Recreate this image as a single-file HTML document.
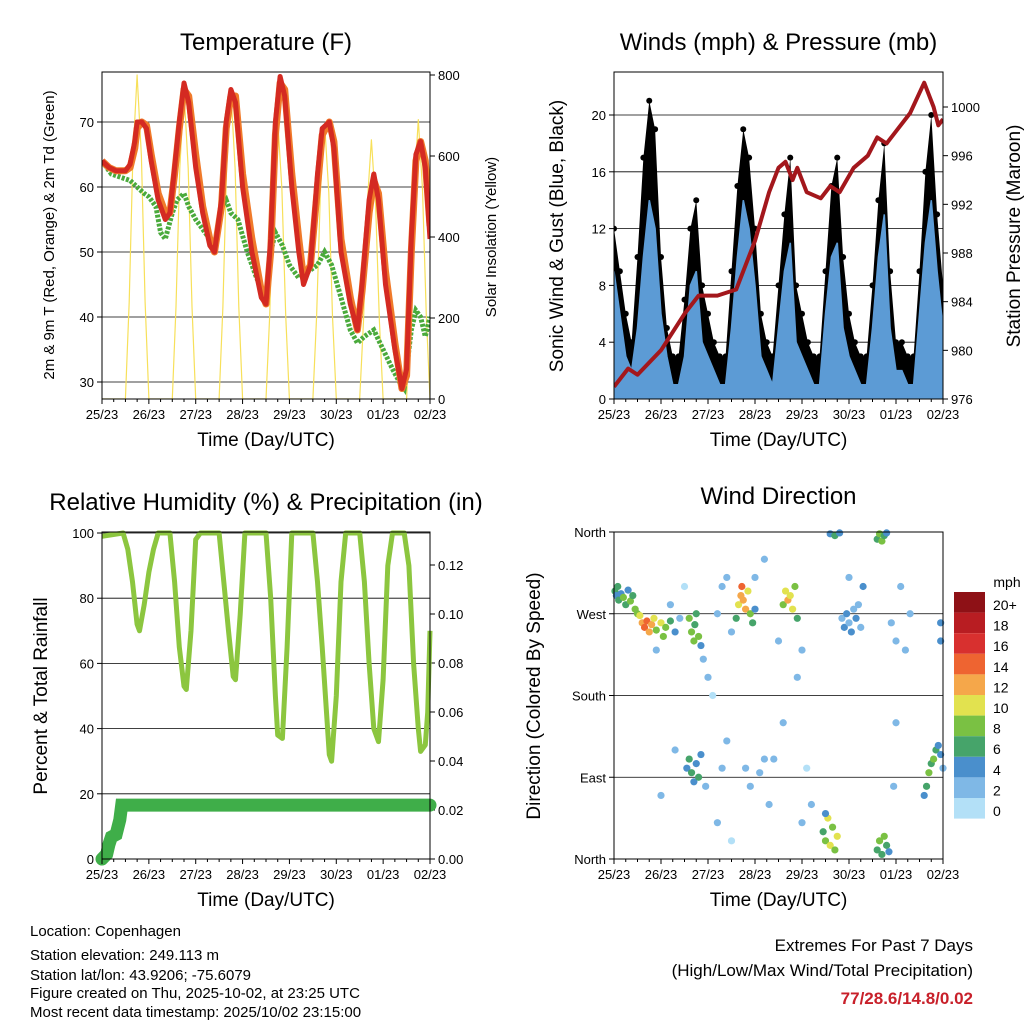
<!DOCTYPE html>
<html><head><meta charset="utf-8"><style>
html,body{margin:0;padding:0;background:#fff;}
svg{display:block;font-family:"Liberation Sans",sans-serif;}
</style></head><body>
<svg id="s" width="1024" height="1024" viewBox="0 0 1024 1024">
<g font-size="15" fill="#000">
<text x="30" y="936">Location: Copenhagen</text>
<text x="30" y="960">Station elevation: 249.113 m</text>
<text x="30" y="980">Station lat/lon: 43.9206; -75.6079</text>
<text x="30" y="998">Figure created on Thu, 2025-10-02, at 23:25 UTC</text>
<text x="30" y="1017">Most recent data timestamp: 2025/10/02 23:15:00</text>
</g>
<g text-anchor="end">
<text x="973" y="951" font-size="17">Extremes For Past 7 Days</text>
<text x="973" y="976" font-size="17">(High/Low/Max Wind/Total Precipitation)</text>
<text x="973" y="1004" font-size="17" font-weight="bold" fill="#c8202a">77/28.6/14.8/0.02</text>
</g>
</svg>
<script>
// ---------- data ----------
const dayLabels=["25/23","26/23","27/23","28/23","29/23","30/23","01/23","02/23"];
const redT=[0,.15,.3,.5,.6,.7,.75,.85,.95,1.05,1.2,1.35,1.45,1.55,1.65,1.75,1.85,2.0,2.15,2.3,2.4,2.55,2.65,2.75,2.85,3.0,3.2,3.4,3.5,3.6,3.7,3.8,3.9,4.05,4.2,4.3,4.45,4.6,4.7,4.85,4.95,5.1,5.3,5.45,5.55,5.7,5.8,5.9,6.05,6.25,6.4,6.5,6.6,6.7,6.8,6.9,7.0];
const redV=[64,63,62.5,62.5,63.5,67,70,70,69,64,58,55,56,63,70,76,73,63,56,51,50,58,70,75,73,60,50,43,42,52,70,77,74,60,50,45,48,62,69,70,66,50,42,38,45,58,62,58,45,35,29,32,52,65,67,63,52];
const orangeV=[64,63,62.5,62.5,63,66,69,70,69.5,65,59,56,56,62,69,75,74,65,57,52,50,57,69,74,74,62,52,44,42,50,68,76,75,62,52,46,48,60,68,70,67,52,43,38,44,56,61,59,47,36,29,31,50,64,67,64,54];
const tdT=[0,.2,.4,.6,.75,.9,1.0,1.15,1.25,1.35,1.5,1.6,1.75,1.85,2.0,2.2,2.3,2.4,2.55,2.65,2.75,2.9,3.1,3.3,3.5,3.6,3.7,3.85,4.0,4.2,4.4,4.6,4.75,4.9,5.1,5.3,5.45,5.6,5.8,6.0,6.2,6.35,6.45,6.6,6.7,6.8,6.9,7.0];
const tdV=[64,62,61.5,61,60,59,58.5,57,53,52,56,58,59,57,55,53,52,51,57,58,56,55,50,46,43,50,53,51,48,46,47,48,50,48,43,38,36,37,38,35,32,30,29,38,41,40,37,40];
const solDay=[0,1,2,3,4,5,6];
const solPeak=[800,760,760,690,680,640,690];
const solShapeT=[0.5,0.58,0.66,0.75,0.84,0.92,1.0];
const solShapeF=[0,0.3,0.75,1,0.75,0.3,0];
const blueHi=[9,6,3,2,5,10,14,12, 6,3,1,1,3,8,9,4, 3,2,1,1,5,10,14,12, 8,3,2,1,5,9,11,4, 3,2,1,1,6,10,11,5, 3,2,1,1,5,10,13,5, 2,2,1,1,6,11,14,9, 5];
const gust=[12,9,6,4,10,17,21,19, 10,5,3,3,7,12,14,8, 6,4,3,3,9,15,19,17, 12,6,4,3,8,13,17,8, 6,4,3,3,9,15,17,10, 6,4,3,3,8,14,18,9, 4,4,3,3,9,16,20,13, 8];
const presT=[0,.3,.5,1.0,1.5,1.8,2.2,2.6,3.0,3.3,3.5,3.65,3.8,3.9,4.1,4.4,4.6,4.8,5.1,5.4,5.6,5.8,6.0,6.3,6.6,6.8,6.9,7.0];
const presV=[977,978.5,978,980,983,984.5,984.5,985,989,993,995,995.5,994,995,993,992.5,993.5,993,995,996,997.5,997,998,999.5,1002,1000,998.5,999];
const rhT=[0,.45,.55,.65,.75,.8,.9,1.0,1.1,1.2,1.45,1.55,1.65,1.75,1.8,1.9,2.0,2.1,2.5,2.6,2.7,2.8,2.85,2.95,3.05,3.5,3.6,3.7,3.75,3.85,3.95,4.05,4.5,4.6,4.7,4.85,4.9,5.0,5.1,5.2,5.5,5.6,5.7,5.8,5.9,6.0,6.1,6.2,6.45,6.55,6.65,6.75,6.8,6.9,6.95,7.0];
const rhV=[99,100,95,85,72,70,78,88,95,100,100,85,65,53,52,70,98,100,100,85,70,56,55,75,100,100,80,50,38,37,65,100,100,85,65,32,30,50,85,100,100,85,60,40,36,55,90,100,100,90,60,40,33,35,45,70];
const prT=[0,0.1,0.15,0.2,0.3,0.38,0.42,7];
const prV=[0,0.002,0.006,0.009,0.01,0.016,0.022,0.022];
const wdT=[0.02,0.05,0.08,0.1,0.15,0.2,0.25,0.3,0.35,0.4,0.45,0.5,0.55,0.6,0.65,0.7,0.75,0.8,0.85,0.9,1.0,1.05,1.1,1.2,1.3,1.4,0.9,1.2,1.5,1.3,1.0,1.6,1.65,1.7,1.72,1.75,1.8,1.85,1.9,2.0,2.1,1.55,1.6,1.65,1.7,1.75,1.8,1.85,1.95,2.2,2.3,2.4,2.5,2.2,2.3,2.5,2.4,2.6,2.65,2.7,2.72,2.75,2.8,2.85,2.9,2.95,3.0,2.8,2.9,3.1,3.2,3.3,3.0,3.2,3.6,3.65,3.7,3.75,3.8,3.85,3.9,3.5,3.6,3.9,4.0,4.1,4.2,4.0,3.4,4.6,4.7,4.8,4.45,4.5,4.55,4.6,4.65,4.7,4.75,4.5,4.85,4.9,4.95,5.0,5.05,5.1,5.15,5.2,5.25,5.3,5.0,5.6,5.65,5.7,5.75,5.8,5.6,5.65,5.7,5.75,5.8,5.85,5.9,6.0,6.1,6.2,6.3,6.0,5.95,6.6,6.65,6.7,6.75,6.8,6.85,6.9,6.95,7.0,6.95,6.95];
const wdDir=[295,290,300,285,292,288,280,296,284,290,275,270,268,260,255,262,250,258,265,252,260,245,255,262,250,265,230,280,300,120,70,265,250,240,258,270,245,235,220,200,180,100,110,95,85,105,90,115,80,40,100,130,20,270,300,250,310,265,280,290,300,285,275,295,270,260,275,100,80,95,110,60,310,330,280,295,285,290,275,300,265,240,150,200,230,100,60,40,110,358,356,359,30,20,45,15,35,10,25,50,265,255,270,260,250,275,265,280,255,300,310,352,358,350,356,359,10,20,5,25,15,8,260,240,300,230,270,150,80,70,80,95,105,110,120,125,115,100,260,240];
const wdSpd=[6,4,5,6,3,7,5,4,8,6,7,8,10,12,13,14,12,11,10,8,9,7,8,6,3,2,1,1,0,2,1,8,7,8,6,5,7,4,2,1,0,4,5,6,4,3,5,4,2,1,2,1,0,2,1,2,1,6,10,12,13,12,11,10,8,5,3,2,1,2,1,1,2,1,8,10,11,10,9,8,5,1,1,2,1,0,1,1,2,4,6,3,6,8,9,10,8,7,9,4,2,3,4,2,3,2,4,1,2,3,1,6,8,7,6,4,5,8,6,7,6,3,2,1,2,1,1,1,1,4,6,7,6,8,5,4,3,2,3,4];
const cbLabels=["20+","18","16","14","12","10","8","6","4","2","0"];
const cbColors=["#8e1116","#b81d22","#d8302f","#ee6431","#f5a74a","#e2e24f","#7ac143","#46a46a","#4a8fcc","#7fb8e6","#b3e0f7"];

// ---------- helpers ----------
const S=document.getElementById('s'),NS="http://www.w3.org/2000/svg";
function el(tag,attrs,parent){const e=document.createElementNS(NS,tag);for(const k in attrs)e.setAttribute(k,attrs[k]);(parent||S).appendChild(e);return e;}
function txt(x,y,s,size,anchor,parent,rot){const e=el('text',{x:x,y:y,'font-size':size,'text-anchor':anchor||'middle'},parent);if(rot)e.setAttribute('transform','rotate('+rot+' '+x+' '+y+')');e.textContent=s;return e;}
function mkScale(d0,d1,r0,r1){return v=>r0+(v-d0)/(d1-d0)*(r1-r0);}
function pathOf(xs,ys,fx,fy){return xs.map((t,i)=>(i?'L':'M')+fx(t).toFixed(1)+','+fy(ys[i]).toFixed(1)).join('');}
function spdColor(s){return cbColors[10-Math.min(10,Math.floor((s+1)/2))];}

function frame(g,L,T,R,B,title,titleY){
  const f=el('rect',{x:L,y:T,width:R-L,height:B-T,fill:'none',stroke:'#000','stroke-width':1},g);
  
  
  const t=txt((L+R)/2,titleY,title,24,'middle',g);
  
  
}
function xAxis(g,L,R,B){
  const fx=mkScale(0,7,L,R);
  dayLabels.forEach((d,i)=>{
    el('line',{x1:fx(i),y1:B,x2:fx(i),y2:B+5,stroke:'#000'},g);
    const t=txt(fx(i),B+20,d,13,'middle',g);
    
    
    if(i<7)for(let k=1;k<4;k++)el('line',{x1:fx(i+k/4),y1:B,x2:fx(i+k/4),y2:B+3,stroke:'#000'},g);
  });
  const at=txt((L+R)/2,B+47,"Time (Day/UTC)",19,'middle',g);
  
  
  return fx;
}
function yTicks(g,ticks,fy,x,side,labels,grid,L,R){
  ticks.forEach((v,i)=>{
    const y=fy(v);
    if(grid)el('line',{x1:L,y1:y,x2:R,y2:y,stroke:'#000','stroke-width':0.8},g);
    el('line',{x1:x,y1:y,x2:x+(side<0?-5:5),y2:y,stroke:'#000'},g);
    const t=txt(x+(side<0?-8:8),y+5,labels[i],13,side<0?'end':'start',g);
    
    
  });
}

// ---------- Panel 1: Temperature ----------
(function(){
  const L=102,R=430,T=72,B=399;
  const g=el('g',{});
  
  
  const fx=mkScale(0,7,L,R), fy=mkScale(30,70,382,122), fs=mkScale(0,800,399,75);
  const clip=el('clipPath',{id:'c1'},g);el('rect',{x:L,y:T,width:R-L,height:B-T},clip);
  const yTk=[30,40,50,60,70];
  yTicks(g,yTk,fy,L,-1,yTk.map(String),true,L,R);
  yTicks(g,[0,200,400,600,800],fs,R,1,["0","200","400","600","800"],false);
  const pg=el('g',{'clip-path':'url(#c1)'},g);
  let sx=[0],sy=[0];
  solDay.forEach((d,i)=>solShapeT.forEach((p,k)=>{sx.push(d+p);sy.push(solPeak[i]*solShapeF[k]);}));
  sx.push(7);sy.push(0);
  const sol=el('path',{d:pathOf(sx,sy,fx,fs),fill:'none',stroke:'#f7e05a','stroke-width':1.2,'stroke-linejoin':'round'},pg);
  
  
  const gr=el('path',{d:pathOf(tdT,tdV,fx,fy),fill:'none',stroke:'#4aaa3c','stroke-width':5,'stroke-dasharray':'3 1.5'},pg);
  
  
  const or=el('path',{d:pathOf(redT,orangeV,fx,fy),fill:'none',stroke:'#f07a2a','stroke-width':7,'stroke-linejoin':'round'},pg);
  
  
  const rd=el('path',{d:pathOf(redT,redV,fx,fy),fill:'none',stroke:'#d42a22','stroke-width':5,'stroke-linejoin':'round'},pg);
  
  
  frame(g,L,T,R,B,"Temperature (F)",50);
  xAxis(g,L,R,B);
  const a=txt(54,235,"2m & 9m T (Red, Orange) & 2m Td (Green)",15,'middle',g,-90);
  
  
  const b=txt(496,237,"Solar Insolation (Yellow)",15,'middle',g,-90);
  
  
})();

// ---------- Panel 2: Winds ----------
(function(){
  const L=614,R=943,T=72,B=399;
  const g=el('g',{});
  
  
  const fx=mkScale(0,7,L,R), fy=mkScale(0,20,399,115), fp=mkScale(976,1000,399,107);
  const clip=el('clipPath',{id:'c2'},g);el('rect',{x:L,y:T,width:R-L,height:B-T},clip);
  const yTk=[0,4,8,12,16,20];
  yTicks(g,yTk,fy,L,-1,yTk.map(String),true,L,R);
  const pTk=[976,980,984,988,992,996,1000];
  yTicks(g,pTk,fp,R,1,pTk.map(String),false);
  const pg=el('g',{'clip-path':'url(#c2)'},g);
  const wt=blueHi.map((v,i)=>i*0.125);
  const gb=el('path',{d:pathOf(wt,gust,fx,fy)+'L'+fx(7)+','+fy(0)+'L'+fx(0)+','+fy(0)+'Z',fill:'#000',stroke:'none'},pg);
  
  
  wt.forEach((t,i)=>{const c=el('circle',{cx:fx(t),cy:fy(gust[i]),r:3,fill:'#000'},pg);
    
    });
  const bb=el('path',{d:pathOf(wt,blueHi,fx,fy)+'L'+fx(7)+','+fy(0)+'L'+fx(0)+','+fy(0)+'Z',fill:'#5c9bd5',stroke:'#5c9bd5','stroke-width':1.5},pg);
  
  
  const pl=el('path',{d:pathOf(presT,presV,fx,fp),fill:'none',stroke:'#a3171c','stroke-width':4,'stroke-linejoin':'round'},pg);
  
  
  frame(g,L,T,R,B,"Winds (mph) & Pressure (mb)",50);
  xAxis(g,L,R,B);
  const a=txt(563,236,"Sonic Wind & Gust (Blue, Black)",19,'middle',g,-90);
  
  
  const b=txt(1020,236,"Station Pressure (Maroon)",19,'middle',g,-90);
  
  
})();

// ---------- Panel 3: RH ----------
(function(){
  const L=102,R=430,T=532,B=859;
  const g=el('g',{});
  
  
  const fx=mkScale(0,7,L,R), fy=mkScale(0,100,859,533), fr=mkScale(0,0.12,859,565);
  const clip=el('clipPath',{id:'c3'},g);el('rect',{x:L-8,y:T-8,width:R-L+16,height:B-T+16},clip);
  const yTk=[0,20,40,60,80,100];
  yTicks(g,yTk,fy,L,-1,yTk.map(String),true,L,R);
  const rTk=[0,0.02,0.04,0.06,0.08,0.10,0.12];
  yTicks(g,rTk,fr,R,1,rTk.map(v=>v.toFixed(2)),false);
  const pg=el('g',{'clip-path':'url(#c3)'},g);
  const rh=el('path',{d:pathOf(rhT,rhV,fx,fy),fill:'none',stroke:'#8cc63f','stroke-width':5,'stroke-linejoin':'round'},pg);
  
  
  const pr=el('path',{d:pathOf(prT,prV,fx,fr),fill:'none',stroke:'#3fae49','stroke-width':13,'stroke-linecap':'round'},pg);
  
  
  frame(g,L,T,R,B,"Relative Humidity (%) & Precipitation (in)",510);
  xAxis(g,L,R,B);
  const a=txt(47,696,"Percent & Total Rainfall",19,'middle',g,-90);
  
  
})();

// ---------- Panel 4: Wind Direction ----------
(function(){
  const L=614,R=943,T=532,B=859;
  const g=el('g',{});
  
  
  const fx=mkScale(0,7,L,R), fy=mkScale(0,360,859,532);
  const dTk=[0,90,180,270,360],dLb=["North","East","South","West","North"];
  yTicks(g,dTk,fy,L,-1,dLb,true,L,R);
  wdT.forEach((t,i)=>{
    const c=el('circle',{cx:fx(t),cy:fy(wdDir[i]),r:3.6,fill:spdColor(wdSpd[i])},g);
    
    
  });
  frame(g,L,T,R,B,"Wind Direction",504);
  xAxis(g,L,R,B);
  const a=txt(540,696,"Direction (Colored By Speed)",19,'middle',g,-90);
  
  
  const lg=el('g',{},g);
  
  
  txt(1007,587,"mph",14,'middle',lg);
  cbLabels.forEach((lb,i)=>{
    const r=el('rect',{x:954,y:592+i*20.6,width:31,height:20.6,fill:cbColors[i]},lg);
    
    
    const t=txt(993,610+i*20.6,lb,14,'start',lg);
    
    
  });
})();
</script>
</body></html>
